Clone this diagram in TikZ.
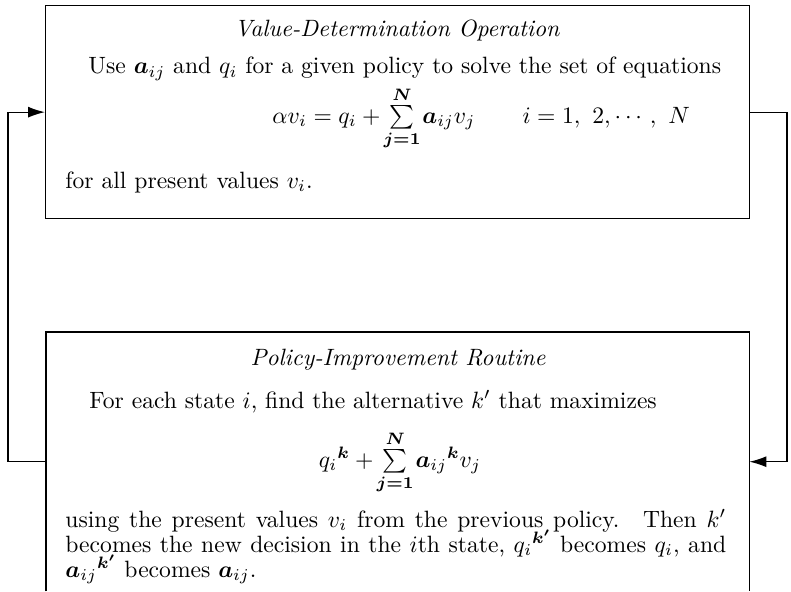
\documentclass[tikz,border=0pt]{standalone}
\usepackage{amsmath}
\usepackage{bm}
\usepackage{fontspec}
\usetikzlibrary{arrows.meta}
\newcommand{\aij}{\bm{a}_{ij}}
\newcommand{\lims}{\clap{$\scriptstyle\bm{j=1}$}}
\begin{document}
\begin{tikzpicture}[x=1pt,y=-1pt,
  txt/.style={inner sep=0pt, scale=2.36, transform shape, font=\fontsize{10}{12}\selectfont},
  conn/.style={-{Latex[length=17pt,width=11pt]}, line width=1.3pt},
  box/.style={draw, line width=1.3pt, inner sep=0pt, anchor=north west}]
\useasboundingbox (0,0) rectangle (791,591);
\node[box, minimum width=704pt, minimum height=213pt] (vdo) at (45,5) {};
\node[inner sep=0pt, minimum width=703pt, minimum height=259pt, anchor=north west] (pir) at (46,332) {};
\draw[line width=1.3pt] (pir.south west) -- (pir.north west) -- (pir.north east) -- (pir.south east);
\coordinate (lx) at (8,0);
\coordinate (rx) at (787,0);
\draw[conn] (pir.west) -- (lx |- pir.west) -- (lx |- vdo.west) -- (vdo.west);
\draw[conn] (vdo.east) -- (rx |- vdo.east) -- (rx |- pir.east) -- (pir.east);

\node[txt, anchor=base] (t1) at (397,37) {\itshape Value-Determination Operation};
\node[txt, anchor=base west] (l1) at (88,74) {Use $\aij$ and $q_i$ for a given policy to solve the set of equations};
\node[txt, anchor=base west] (e1) at (272,123) {$\alpha v_i = q_i + \,\sum\limits_{\lims}^{\bm N}\, \aij v_j \qquad i = 1,\ 2,\cdots,\ N$};
\node[txt, anchor=base west] (l2) at (65,188) {for all present values $v_i$.};

\node[txt, anchor=base] (t2) at (398,365) {\itshape Policy-Improvement Routine};
\node[txt, anchor=base west] (l3) at (89,408) {For each state $i$, find the alternative $k'$ that maximizes};
\node[txt, anchor=base] (e2) at (400,467) {$q_i{}^{\bm k} + \,\sum\limits_{\lims}^{\bm N}\, \aij{}^{\bm k} v_j$};
\node[txt, anchor=base west] (p1) at (65,527) {\makebox[280pt][s]{using the present values $v_i$ from the previous policy.\quad Then $k'$}};
\node[txt, anchor=base west] (p2) at (65,552) {\makebox[280pt][s]{becomes the new decision in the $i$th state, $q_i{}^{\bm{k'}}$ becomes $q_i$, and}};
\node[txt, anchor=base west] (p3) at (65,577) {$\aij{}^{\bm{k'}}$ becomes $\aij$.};
\end{tikzpicture}
\end{document}
